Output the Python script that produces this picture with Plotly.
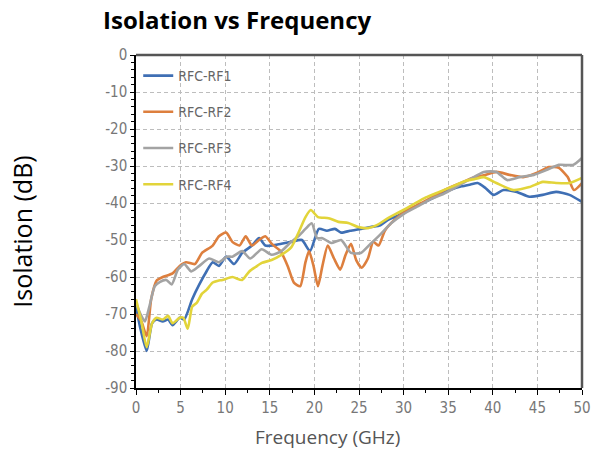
import plotly.graph_objects as go

# ---------------- data ----------------
rf1_f = [0, 0.5, 1.2, 1.8, 2.3, 3.0, 3.6, 4.1, 4.9, 5.4, 6.3, 7.1, 7.9, 8.6, 9.3, 10.1, 11.0, 11.9,
         13.0, 13.8, 14.5, 15.3, 16.3, 17.4, 18.6, 19.5, 20.5, 21.4, 22.3, 23.0, 24.0, 25.2, 26.3,
         27.4, 28.3, 29.3, 30.4, 31.7, 33.0, 34.2, 35.2, 36.5, 37.5, 38.3, 39.2, 40.1, 41.2, 42.7,
         44.1, 45.6, 47.1, 48.6, 50]
rf1_db = [-68, -74, -80, -72.5, -71.5, -72, -71.5, -73, -71, -71.5, -66, -62, -58.5, -56, -57, -54.5,
          -56.5, -53.5, -51.5, -49.5, -51.5, -51.5, -51, -50.5, -50, -53, -47, -47.5, -47, -48, -47.5,
          -47, -46.5, -46, -44.5, -43.5, -42, -40.5, -39, -37.5, -36.5, -35.5, -35, -34.6, -36, -37.8,
          -36.5, -37, -38.3, -37.8, -37, -37.8, -39.7]

rf2_f = [0, 0.6, 1.2, 1.7, 2.3, 3.0, 4.1, 4.9, 5.6, 6.6, 7.4, 8.6, 9.3, 10.1, 10.8, 11.6, 12.3, 13.0,
         13.8, 14.5, 15.2, 16.2, 17.0, 17.7, 18.4, 19.0, 19.4, 19.9, 20.4, 20.9, 21.5, 22.2, 22.9,
         23.5, 24.1, 24.7, 25.3, 26.0, 26.6, 27.2, 27.9, 29.0, 30.4, 32, 33.5, 35, 36.5, 38, 39,
         40.4, 41.9, 43.4, 44.9, 46.3, 47.4, 48.4, 49.1, 50]
rf2_db = [-70, -72, -76, -66, -61, -60, -59, -57, -56, -56.5, -53.5, -51.5, -49, -48, -50.5, -51.5,
          -49, -51.5, -50, -49, -51, -53, -57, -61.5, -62.5, -56, -53, -57, -62.5, -57, -51.5, -55,
          -58, -54, -51, -55.5, -57.5, -55, -50.5, -51.5, -47.5, -44.5, -42, -40, -38, -36, -34.5,
          -33, -32.5, -31.6, -32.4, -33, -31.9, -30.3, -30.5, -33, -36.5, -34.6]

rf3_f = [0, 0.5, 1.0, 1.5, 2.1, 2.7, 3.4, 4.0, 4.7, 5.4, 6.2, 7.1, 8.2, 9.3, 10.2, 10.8, 11.9, 12.8,
         14.1, 15.2, 16.3, 17.4, 18.2, 19.0, 19.7, 20.3, 20.9, 21.9, 23.0, 24.1, 25.2, 26.3, 27.4,
         28.6, 30, 31.5, 33, 34.5, 36, 37.5, 39, 40.4, 41.6, 43, 44.6, 46, 47.4, 49, 50]
rf3_db = [-67, -70, -72, -68, -62.5, -61.3, -60.8, -62, -58, -56.5, -58.5, -57, -55, -56, -54.5,
          -54.5, -53, -55, -52.5, -54, -53, -50.5, -49, -47, -45.5, -49.5, -49.5, -50.8, -50, -53.5,
          -53.5, -51, -48.5, -45.5, -43, -41, -39, -37.5, -35.5, -33.5, -31.6, -31.6, -33.8, -33,
          -32.4, -31.1, -29.7, -29.7, -27.8]

rf4_f = [0, 0.6, 1.2, 1.8, 2.3, 3.0, 3.6, 4.1, 4.9, 5.3, 5.8, 6.3, 6.8, 7.4, 7.9, 8.6, 9.2, 9.7,
         10.8, 11.9, 12.7, 13.4, 14.1, 15.2, 16.3, 17.4, 18.2, 19.0, 19.6, 20.4, 21.6, 22.7, 23.8,
         24.9, 26.0, 27.0, 28.3, 29.5, 31, 32.5, 34, 35.5, 37, 38, 39, 40.4, 42.3, 44.1, 45.6, 47.1,
         48.6, 50]
rf4_db = [-66, -72, -79, -72.5, -71, -71.5, -70.5, -72.5, -71, -71, -74, -68, -67, -64.5, -63.5,
          -61.5, -61, -60.8, -60, -60.8, -58.5, -57.3, -56.2, -55.4, -54, -52, -48.1, -43.8, -41.9,
          -43.8, -44.1, -45.1, -45.4, -46.5, -46.8, -46, -44, -42.5, -40.5, -38.5, -37, -35.5, -34,
          -33.5, -33, -34.6, -36.5, -35.7, -34.3, -34.6, -34.6, -33.2]

series_names = ["RFC-RF1", "RFC-RF2", "RFC-RF3", "RFC-RF4"]
series_colors = ["#3f6fb4", "#dd7f3e", "#a3a3a3", "#e2d43a"]
x_ticks = [0, 5, 10, 15, 20, 25, 30, 35, 40, 45, 50]
y_ticks = [0, -10, -20, -30, -40, -50, -60, -70, -80, -90]

title_text = "Isolation vs Frequency"
x_title = "Frequency (GHz)"
y_title = "Isolation (dB)"

# ---------------- figure ----------------
narrow = "Liberation Sans Narrow, DejaVu Sans Condensed, Arial Narrow, sans-serif"
fig = go.Figure()
for i, (fx, fy) in enumerate([(rf1_f, rf1_db), (rf2_f, rf2_db), (rf3_f, rf3_db), (rf4_f, rf4_db)]):
    fig.add_trace(go.Scatter(
        x=fx, y=fy, mode="lines", name=series_names[i], legendgroup=series_names[i],
        line=dict(color=series_colors[i], width=2.6, shape="spline", smoothing=0.6),
    ))

fig.update_layout(
    width=603, height=455,
    margin=dict(l=136, r=17, t=55, b=67),
    paper_bgcolor="white", plot_bgcolor="white",
    showlegend=True,
    legend=dict(x=0.005, y=0.985, xanchor="left", yanchor="top",
                bgcolor="rgba(0,0,0,0)", borderwidth=0,
                font=dict(family=narrow, size=14, color="#666666"),
                tracegroupgap=15, itemwidth=30),
    xaxis=dict(range=[0, 50], tickvals=x_ticks, ticktext=[str(v) for v in x_ticks],
               showgrid=True, gridcolor="#bdbdbd", griddash="4px,3px", gridwidth=1,
               showline=True, linecolor="black", linewidth=1.5, zeroline=False,
               ticks="outside", ticklen=5, tickcolor="black", tickwidth=1.2,
               minor=dict(dtick=2.5, ticks="outside", ticklen=3, tickcolor="black", showgrid=False),
               tickfont=dict(family=narrow, size=15, color="#777777")),
    yaxis=dict(range=[-90, 0], tickvals=y_ticks, ticktext=[str(v) for v in y_ticks],
               showgrid=True, gridcolor="#bdbdbd", griddash="4px,3px", gridwidth=1,
               showline=True, linecolor="black", linewidth=1.5, zeroline=False,
               ticks="outside", ticklen=4, tickcolor="black", tickwidth=1.2,
               minor=dict(dtick=2, ticks="outside", ticklen=3, tickcolor="black", showgrid=False),
               tickfont=dict(family=narrow, size=15, color="#777777")),
    shapes=[
        dict(type="line", xref="paper", yref="paper", x0=0, x1=1, y0=1, y1=1,
             line=dict(color="#555555", width=2.5)),
        dict(type="line", xref="paper", yref="paper", x0=1, x1=1, y0=0, y1=1,
             line=dict(color="#555555", width=2.5)),
    ],
    annotations=[
        dict(text="<b>" + title_text + "</b>", xref="paper", yref="paper",
             x=-0.078, y=1.0, yshift=36, xanchor="left", yanchor="middle", showarrow=False,
             font=dict(family="Open Sans, sans-serif", size=24, color="black")),
        dict(text=y_title, xref="paper", yref="paper", x=-0.255, y=0.47,
             xanchor="center", yanchor="middle", textangle=-90, showarrow=False,
             font=dict(family="Open Sans, sans-serif", size=25, color="black")),
        dict(text=x_title, xref="paper", yref="paper", x=0.43, y=0, yshift=-49,
             xanchor="center", yanchor="middle", showarrow=False,
             font=dict(family="Open Sans, sans-serif", size=19, color="#555555")),
    ],
)

fig.write_html("out.html")
